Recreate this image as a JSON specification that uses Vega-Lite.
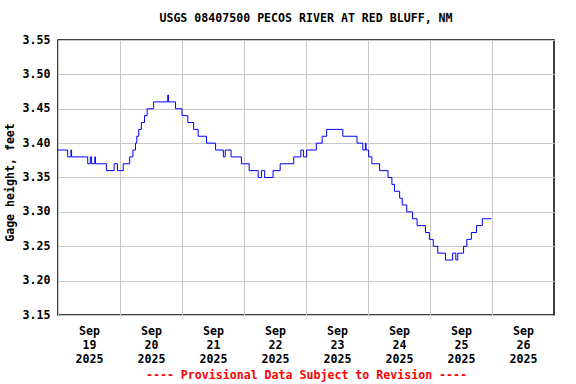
{
  "$schema": "https://vega.github.io/schema/vega-lite/v6.json",
  "width": 496,
  "height": 275,
  "autosize": "none",
  "padding": {"left": 58, "top": 40, "right": 22, "bottom": 69},
  "background": "white",
  "title": {
    "text": "USGS 08407500 PECOS RIVER AT RED BLUFF, NM",
    "font": "DejaVu Sans Mono",
    "fontSize": 11.6,
    "fontWeight": "bold",
    "color": "black",
    "anchor": "middle",
    "offset": 9
  },
  "config": {
    "view": {"stroke": "black", "strokeWidth": 1.5},
    "axis": {
      "labelFont": "DejaVu Sans Mono",
      "labelFontSize": 11.6,
      "labelFontWeight": "bold",
      "labelColor": "black",
      "titleFont": "DejaVu Sans Mono",
      "titleFontSize": 11.6,
      "titleFontWeight": "bold",
      "gridColor": "#c8c8c8",
      "gridWidth": 1,
      "gridOpacity": 1,
      "ticks": false,
      "domain": false
    }
  },
  "data": {
    "values": [
      {"t": "2025-09-19T00:00", "h": 3.39},
      {"t": "2025-09-19T03:45", "h": 3.38},
      {"t": "2025-09-19T05:00", "h": 3.39},
      {"t": "2025-09-19T05:15", "h": 3.38},
      {"t": "2025-09-19T11:30", "h": 3.37},
      {"t": "2025-09-19T12:30", "h": 3.38},
      {"t": "2025-09-19T13:00", "h": 3.37},
      {"t": "2025-09-19T14:15", "h": 3.38},
      {"t": "2025-09-19T14:30", "h": 3.37},
      {"t": "2025-09-19T18:45", "h": 3.36},
      {"t": "2025-09-19T21:45", "h": 3.37},
      {"t": "2025-09-19T23:00", "h": 3.36},
      {"t": "2025-09-20T01:15", "h": 3.37},
      {"t": "2025-09-20T03:45", "h": 3.38},
      {"t": "2025-09-20T05:00", "h": 3.39},
      {"t": "2025-09-20T06:00", "h": 3.40},
      {"t": "2025-09-20T06:30", "h": 3.41},
      {"t": "2025-09-20T07:15", "h": 3.42},
      {"t": "2025-09-20T08:15", "h": 3.43},
      {"t": "2025-09-20T09:30", "h": 3.44},
      {"t": "2025-09-20T10:30", "h": 3.45},
      {"t": "2025-09-20T13:00", "h": 3.46},
      {"t": "2025-09-20T18:30", "h": 3.47},
      {"t": "2025-09-20T18:45", "h": 3.46},
      {"t": "2025-09-20T21:30", "h": 3.45},
      {"t": "2025-09-21T00:00", "h": 3.44},
      {"t": "2025-09-21T02:15", "h": 3.43},
      {"t": "2025-09-21T04:30", "h": 3.42},
      {"t": "2025-09-21T06:15", "h": 3.41},
      {"t": "2025-09-21T09:30", "h": 3.40},
      {"t": "2025-09-21T13:00", "h": 3.39},
      {"t": "2025-09-21T16:00", "h": 3.38},
      {"t": "2025-09-21T16:45", "h": 3.39},
      {"t": "2025-09-21T19:00", "h": 3.38},
      {"t": "2025-09-21T23:00", "h": 3.37},
      {"t": "2025-09-22T02:00", "h": 3.36},
      {"t": "2025-09-22T05:30", "h": 3.35},
      {"t": "2025-09-22T06:45", "h": 3.36},
      {"t": "2025-09-22T08:00", "h": 3.35},
      {"t": "2025-09-22T11:15", "h": 3.36},
      {"t": "2025-09-22T14:00", "h": 3.37},
      {"t": "2025-09-22T19:15", "h": 3.38},
      {"t": "2025-09-22T22:00", "h": 3.39},
      {"t": "2025-09-22T23:00", "h": 3.38},
      {"t": "2025-09-23T00:15", "h": 3.39},
      {"t": "2025-09-23T04:00", "h": 3.40},
      {"t": "2025-09-23T06:15", "h": 3.41},
      {"t": "2025-09-23T08:00", "h": 3.42},
      {"t": "2025-09-23T14:15", "h": 3.41},
      {"t": "2025-09-23T19:45", "h": 3.40},
      {"t": "2025-09-23T22:00", "h": 3.39},
      {"t": "2025-09-23T23:00", "h": 3.40},
      {"t": "2025-09-23T23:15", "h": 3.39},
      {"t": "2025-09-24T00:15", "h": 3.38},
      {"t": "2025-09-24T01:30", "h": 3.37},
      {"t": "2025-09-24T04:30", "h": 3.36},
      {"t": "2025-09-24T07:45", "h": 3.35},
      {"t": "2025-09-24T09:15", "h": 3.34},
      {"t": "2025-09-24T10:15", "h": 3.33},
      {"t": "2025-09-24T12:15", "h": 3.32},
      {"t": "2025-09-24T13:15", "h": 3.31},
      {"t": "2025-09-24T15:00", "h": 3.30},
      {"t": "2025-09-24T17:15", "h": 3.29},
      {"t": "2025-09-24T19:00", "h": 3.28},
      {"t": "2025-09-24T22:15", "h": 3.27},
      {"t": "2025-09-24T23:45", "h": 3.26},
      {"t": "2025-09-25T01:15", "h": 3.25},
      {"t": "2025-09-25T03:00", "h": 3.24},
      {"t": "2025-09-25T06:00", "h": 3.23},
      {"t": "2025-09-25T08:45", "h": 3.24},
      {"t": "2025-09-25T10:00", "h": 3.23},
      {"t": "2025-09-25T10:45", "h": 3.24},
      {"t": "2025-09-25T13:00", "h": 3.25},
      {"t": "2025-09-25T14:15", "h": 3.26},
      {"t": "2025-09-25T16:00", "h": 3.27},
      {"t": "2025-09-25T18:00", "h": 3.28},
      {"t": "2025-09-25T20:15", "h": 3.29},
      {"t": "2025-09-25T23:45", "h": 3.29}
    ]
  },
  "mark": {"type": "line", "interpolate": "step-after", "color": "#0000ff", "strokeWidth": 1, "clip": true},
  "encoding": {
    "x": {
      "field": "t",
      "type": "temporal",
      "scale": {"domain": [{"year": 2025, "month": 9, "date": 19}, {"year": 2025, "month": 9, "date": 27}]},
      "axis": {
        "title": "---- Provisional Data Subject to Revision ----",
        "titleColor": "#ff0000",
        "titlePadding": 5,
        "values": [
          {"year": 2025, "month": 9, "date": 19},
          {"year": 2025, "month": 9, "date": 20},
          {"year": 2025, "month": 9, "date": 21},
          {"year": 2025, "month": 9, "date": 22},
          {"year": 2025, "month": 9, "date": 23},
          {"year": 2025, "month": 9, "date": 24},
          {"year": 2025, "month": 9, "date": 25},
          {"year": 2025, "month": 9, "date": 26}
        ],
        "labelExpr": "[timeFormat(datum.value, '%b'), timeFormat(datum.value, '%d'), timeFormat(datum.value, '%Y')]",
        "labelOffset": 31,
        "labelFlush": false,
        "labelOverlap": false,
        "labelBound": false,
        "labelPadding": 10,
        "labelLineHeight": 14,
        "labelAlign": "center",
        "labelBaseline": "top"
      }
    },
    "y": {
      "field": "h",
      "type": "quantitative",
      "scale": {"domain": [3.15, 3.55], "nice": false, "zero": false},
      "axis": {
        "title": "Gage height, feet",
        "values": [3.15, 3.2, 3.25, 3.3, 3.35, 3.4, 3.45, 3.5, 3.55],
        "format": ".2f",
        "labelPadding": 8,
        "titlePadding": 7,
        "titleY": 142
      }
    }
  }
}
